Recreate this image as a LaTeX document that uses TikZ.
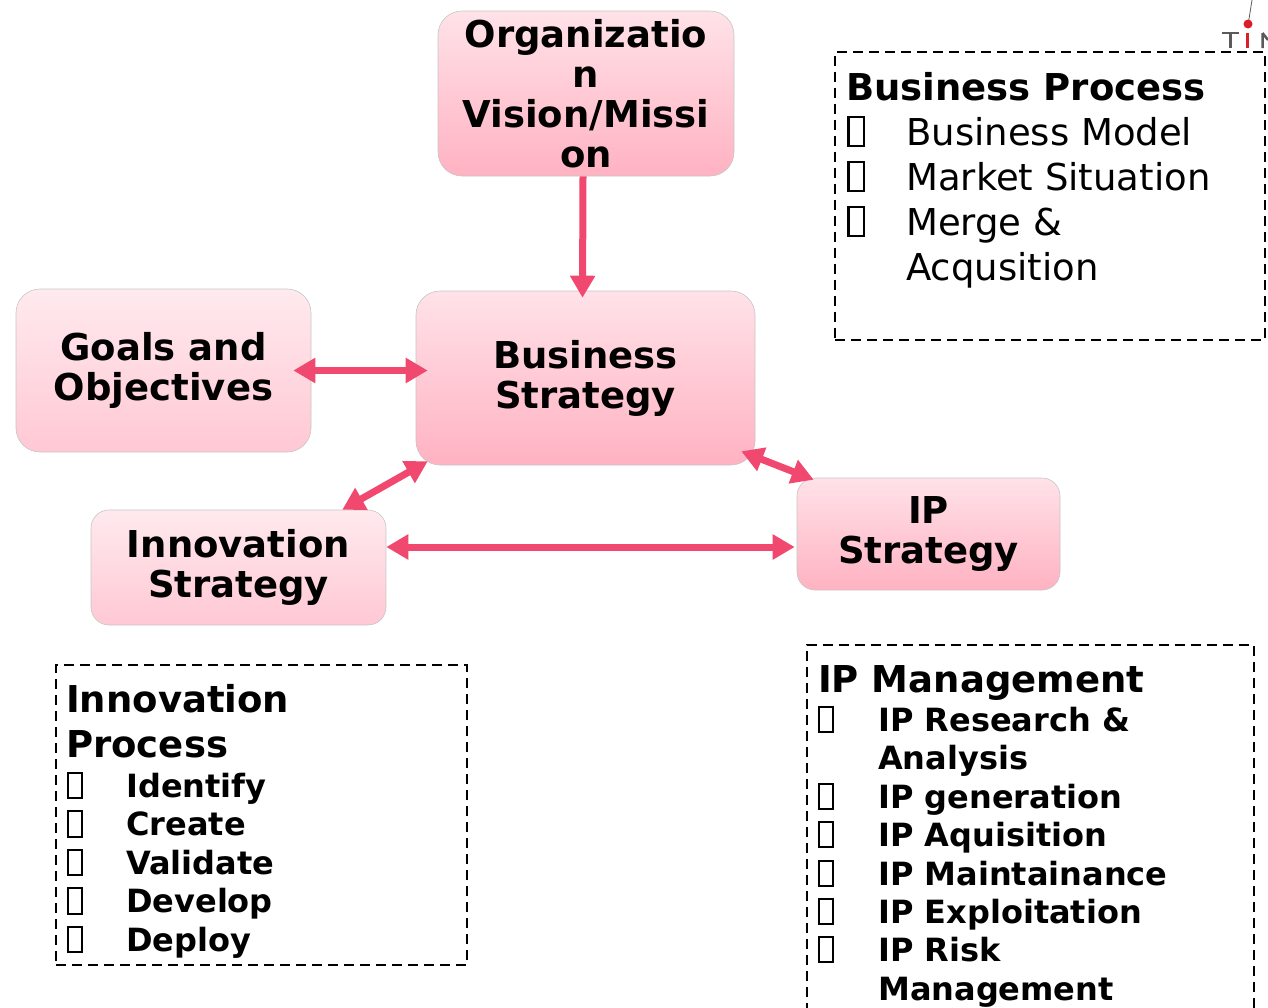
\documentclass[tikz,border=0pt]{standalone}
\usepackage{fontspec}
\setmainfont{DejaVu Sans}
\usetikzlibrary{arrows.meta}
\definecolor{arrc}{RGB}{240,72,110}
\definecolor{topc}{RGB}{255,226,232}
\definecolor{botc}{RGB}{255,178,194}
\definecolor{ltop}{RGB}{255,234,238}
\definecolor{lbot}{RGB}{255,200,212}
\definecolor{logog}{RGB}{90,90,90}
\definecolor{logor}{RGB}{220,30,40}
\newcommand\gbx{{\setlength\fboxsep{0pt}\setlength\fboxrule{0.065em}\fbox{\rule{0pt}{0.72em}\hspace{0.36em}}}}
\begin{document}
\begin{tikzpicture}[x=1pt,y=-1pt,
 pbox/.style={rectangle, rounded corners=24pt, draw=gray!45, line width=0.6pt, top color=topc, bottom color=botc, align=center, inner sep=0pt, font=\bfseries\fontsize{37}{40}\selectfont},
 lighter/.style={top color=ltop, bottom color=lbot},
 arr/.style={draw=arrc, line width=7pt, {Triangle[length=22pt,width=24pt]}-{Triangle[length=22pt,width=24pt]}},
 sarr/.style={draw=arrc, line width=7pt, -{Triangle[length=22pt,width=24pt]}},
 dbox/.style={draw, dash pattern=on 10pt off 6pt, line width=2.8pt, inner sep=0pt, outer sep=0pt, anchor=north west},
 ttl/.style={anchor=base west, inner sep=0pt, font=\bfseries\fontsize{37}{40}\selectfont},
 itm/.style={anchor=base west, inner sep=0pt, font=\fontsize{37}{40}\selectfont},
 bitm/.style={anchor=base west, inner sep=0pt, font=\bfseries\fontsize{32}{36}\selectfont},
]
\useasboundingbox (0,0) rectangle (1268,1007);

% main boxes
\node[pbox, minimum width=296pt, minimum height=165pt] (org) at (586,93.5) {Organizatio\\n\\Vision/Missi\\on};
\node[pbox, minimum width=339pt, minimum height=174pt] (bs) at (585.5,378) {Business\\Strategy};
\node[pbox, lighter, minimum width=295pt, minimum height=163pt] (goals) at (163.5,370.5) {Goals and\\Objectives};
\node[pbox, lighter, rounded corners=18pt, minimum width=295pt, minimum height=115pt] (innov) at (238.5,567.5) {Innovation\\Strategy};
\node[pbox, rounded corners=18pt, minimum width=263pt, minimum height=112pt] (ip) at (928.5,534) {IP\\Strategy};

% connectors
\draw[sarr] ([shift={(-3,0)}]org.south) -- ([shift={(-3,7)}]bs.north);
\draw[arr] ([shift={(-18,0)}]goals.east) -- ([shift={(12,0)}]goals.east -| bs.west);
\draw[arr] ([shift={(12,-4)}]bs.south west) -- ([shift={(-44,0)}]innov.north east);
\draw[arr] ([shift={(-14,-14)}]bs.south east) -- ([shift={(17,2)}]ip.north west);
\draw[arr] ([shift={(0,-20.5)}]innov.east) -- ([shift={(-2,13)}]ip.west);

% Business Process box
\node[dbox, minimum width=430pt, minimum height=288pt] (bpbox) at (835,52) {};
\node[ttl] (bpt) at (846,100) {Business Process};
\node[itm] (bp1) at (847,145) {\makebox[59pt][l]{\gbx}Business Model};
\node[itm] (bp2) at (847,190) {\makebox[59pt][l]{\gbx}Market Situation};
\node[itm] (bp3) at (847,235) {\makebox[59pt][l]{\gbx}Merge \&};
\node[itm] (bp4) at (906,280) {Acqusition};

% Innovation Process box
\node[dbox, minimum width=411pt, minimum height=300pt] (ipbox) at (56,665) {};
\node[ttl] (inpt1) at (66,712) {Innovation};
\node[ttl] (inpt2) at (66,757) {Process};
\node[bitm] (in1) at (67,797) {\makebox[59pt][l]{\gbx}Identify};
\node[bitm] (in2) at (67,835.5) {\makebox[59pt][l]{\gbx}Create};
\node[bitm] (in3) at (67,874) {\makebox[59pt][l]{\gbx}Validate};
\node[bitm] (in4) at (67,912.5) {\makebox[59pt][l]{\gbx}Develop};
\node[bitm] (in5) at (67,951) {\makebox[59pt][l]{\gbx}Deploy};

% IP Management box
\node[dbox, minimum width=447pt, minimum height=380pt] (ipmbox) at (807,645) {};
\node[ttl] (ipmt) at (818,692) {IP Management};
\node[bitm] (ipm1) at (818,731) {\makebox[60pt][l]{\gbx}IP Research \&};
\node[bitm] (ipm1b) at (878,769) {Analysis};
\node[bitm] (ipm2) at (818,808) {\makebox[60pt][l]{\gbx}IP generation};
\node[bitm] (ipm3) at (818,846) {\makebox[60pt][l]{\gbx}IP Aquisition};
\node[bitm] (ipm4) at (818,885) {\makebox[60pt][l]{\gbx}IP Maintainance};
\node[bitm] (ipm5) at (818,923) {\makebox[60pt][l]{\gbx}IP Exploitation};
\node[bitm] (ipm6) at (818,961) {\makebox[60pt][l]{\gbx}IP Risk};
\node[bitm] (ipm6b) at (878,1000) {Management};

% logo fragment
\draw[logog, line width=2.5pt] (1222,33) -- (1239,33) (1230.5,33) -- (1230.5,48);
\draw[logor, line width=3pt] (1247.5,33) -- (1247.5,48);
\draw[logog, line width=2.5pt] (1262.5,33) -- (1262.5,48) (1262.5,33) -- (1268,40);
\draw[logog, line width=0.8pt] (1248.5,22) -- (1252,0);
\fill[logor] (1248,24) circle (4.5pt);
\end{tikzpicture}
\end{document}
